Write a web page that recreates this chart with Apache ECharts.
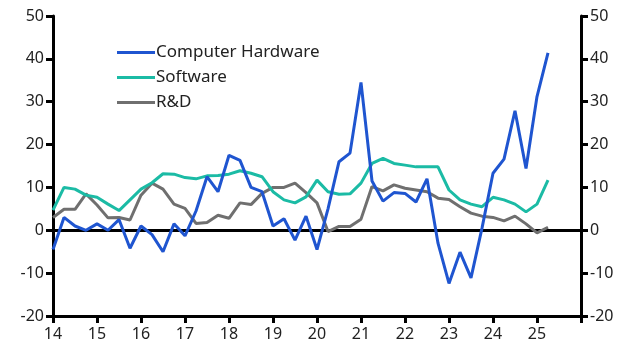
<!DOCTYPE html>
<html><head><meta charset="utf-8">
<script src="https://cdn.jsdelivr.net/npm/echarts@6/dist/echarts.min.js"></script>
<style>html,body{margin:0;padding:0;background:#fff}#c{width:630px;height:355px}</style>
</head><body><div id="c"></div>
<script>
const startYear = 2014; // first quarter = 2014 Q1, quarterly data
const hardware = [-4.5,3,1,0,1.5,0,2.5,-4.2,1,-1,-5,1.5,-1.3,4.5,12.5,9,17.5,16.3,10,9,1,2.7,-2.3,3.3,-4.5,5,16,18,34.5,11.5,6.8,8.8,8.6,6.6,12,-3,-12.4,-5.1,-11.1,0.5,13.3,16.6,27.9,14.4,31.2,41.4];
const software = [4.7,10,9.6,8.2,7.7,6.1,4.6,7.1,9.6,11.1,13.2,13.1,12.3,12,12.7,12.8,13.1,13.9,13.3,12.5,9,7.1,6.4,7.8,11.7,9,8.4,8.5,11,15.6,16.8,15.6,15.2,14.8,14.8,14.8,9.4,7.1,6.1,5.5,7.7,7.1,6.1,4.3,6.1,11.7];
const rnd = [3,4.9,4.9,8.5,5.9,2.9,3,2.4,8.2,11,9.6,6.1,5.1,1.6,1.8,3.5,2.8,6.4,6,8.6,10,10,11,8.8,6.4,-0.3,0.9,0.9,2.6,10.2,9.2,10.6,9.8,9.4,9,7.5,7.2,5.5,4,3.3,3,2.2,3.3,1.5,-0.6,0.7];
const seriesNames = ['Computer Hardware','Software','R&D'];
const colors = ['#1f55d0','#1bbba5','#6f6f6f'];
const yTicks = {min:-20, max:50, interval:10};
const xTicks = {min:2014, max:2026, interval:1};

function pts(arr){ return arr.map((v,i)=>[startYear + i/4, v]); }
const font = '"Noto Sans", sans-serif';
const chart = echarts.init(document.getElementById('c'));
const yAxisBase = {
  type:'value', min:yTicks.min, max:yTicks.max, interval:yTicks.interval,
  axisLine:{show:true, onZero:false, lineStyle:{color:'#000', width:3}},
  axisTick:{show:true, length:7, lineStyle:{color:'#000', width:3}},
  splitLine:{show:false},
  axisLabel:{color:'#222', fontSize:16, fontFamily:font, margin:9}
};
chart.setOption({
  animation:false,
  grid:{left:53, right:49, top:16, bottom:39},
  legend:{
    left:112, top:39, orient:'vertical', itemGap:8, itemWidth:38, itemHeight:10,
    icon:'path://M0,3.4 L38,3.4 L38,6.6 L0,6.6 Z',
    textStyle:{fontSize:17, fontFamily:font, color:'#222', padding:[0,0,0,-4]},
    data:seriesNames
  },
  xAxis:{
    type:'value', min:xTicks.min, max:xTicks.max, interval:xTicks.interval,
    axisLine:{onZero:false, lineStyle:{color:'#000', width:3}},
    axisTick:{show:true, length:7, lineStyle:{color:'#000', width:3}},
    splitLine:{show:false},
    axisLabel:{color:'#222', fontSize:16, fontFamily:font, margin:10,
      formatter:v=> v>=2026 ? '' : String(v-2000)}
  },
  yAxis:[Object.assign({position:'left'}, yAxisBase), Object.assign({position:'right'}, yAxisBase)],
  series:seriesNames.map((n,k)=>({
    name:n, type:'line', data:pts([hardware,software,rnd][k]), showSymbol:false, symbol:'none',
    lineStyle:{width:3, color:colors[k]}, itemStyle:{color:colors[k]}, z:3-k+2,
    markLine: k===0 ? {silent:true, symbol:'none', label:{show:false},
      lineStyle:{color:'#000', width:3, type:'solid'}, data:[{yAxis:0}], z:1} : undefined
  }))
});
</script></body></html>
